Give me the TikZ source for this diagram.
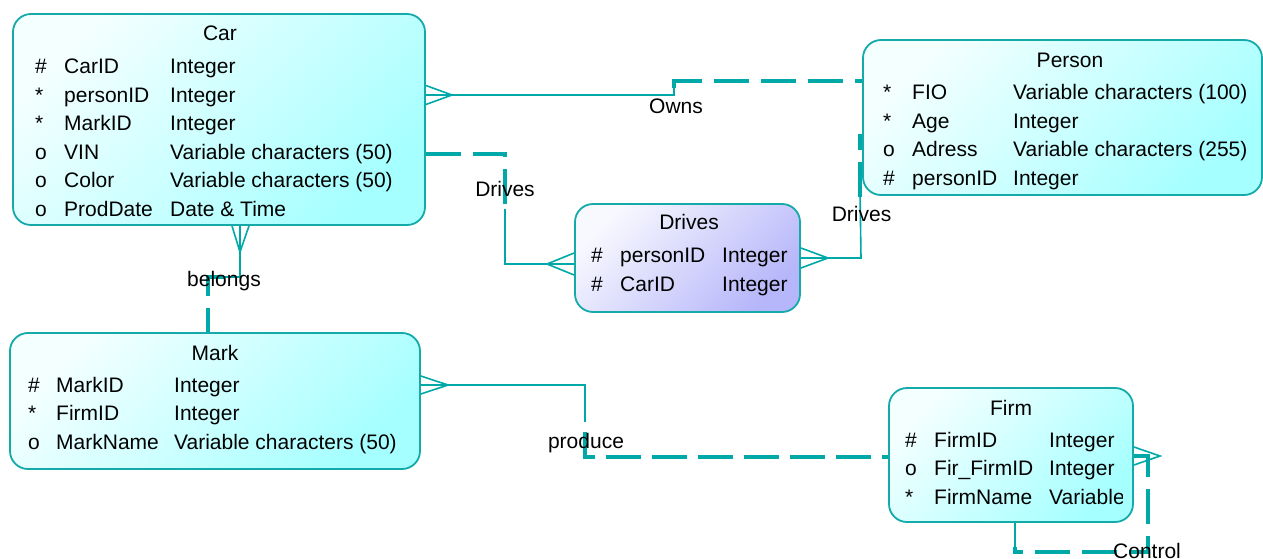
\documentclass[tikz,border=0pt]{standalone}
\usepackage{fontspec}
\setmainfont{Liberation Sans}
\usetikzlibrary{calc}
\definecolor{relline}{RGB}{0,168,168}
\definecolor{boxedge}{RGB}{20,170,170}
\definecolor{cyanlight}{RGB}{244,255,255}
\definecolor{cyandeep}{RGB}{166,255,255}
\definecolor{violight}{RGB}{248,248,255}
\definecolor{viodeep}{RGB}{182,182,250}
\begin{document}
\begin{tikzpicture}[x=1pt,y=-1pt,
  font=\fontsize{21}{25}\selectfont,
  entity/.style={draw=boxedge, line width=1.8pt, rounded corners=18pt, inner sep=0pt,
    top color=cyanlight, bottom color=cyandeep, shading angle=45},
  assoc/.style={entity, top color=violight, bottom color=viodeep, shading angle=45},
  txt/.style={anchor=base west, inner sep=0pt},
  ttl/.style={anchor=base, inner sep=0pt},
  lbl/.style={anchor=base, inner sep=0pt},
  solidrel/.style={draw=relline, line width=1.6pt},
  dashrel/.style={draw=relline, line width=4pt, dash pattern=on 35pt off 12pt},
  crow/.style={draw=relline, line width=1.6pt},
]
\useasboundingbox (0,0) rectangle (1263,559);

% ---------- entities ----------
\node[entity, minimum width=412pt, minimum height=211pt] (car) at (219,119.5) {};
\node[entity, minimum width=399pt, minimum height=155pt] (person) at (1062.5,117.5) {};
\node[assoc, minimum width=225pt, minimum height=108pt] (drives) at (687.5,258) {};
\node[entity, minimum width=410pt, minimum height=136pt] (mark) at (215,401) {};
\node[entity, minimum width=244pt, minimum height=134pt] (firm) at (1011,455) {};

% Car
\node[ttl] (car-title) at (220,41) {Car};
\foreach \s/\n/\t [count=\i from 0] in {\#/CarID/Integer, */personID/Integer, */MarkID/Integer,
    o/VIN/Variable characters (50), o/Color/Variable characters (50), o/ProdDate/Date \& Time} {
  \node[txt] (car-k\i) at (35,{74+28.4*\i}) {\s};
  \node[txt] (car-n\i) at (64,{74+28.4*\i}) {\n};
  \node[txt] (car-t\i) at (170,{74+28.4*\i}) {\t};
}

% Person
\node[ttl] (person-title) at (1070,67.5) {Person};
\foreach \s/\n/\t [count=\i from 0] in {*/FIO/Variable characters (100), */Age/Integer,
    o/Adress/Variable characters (255), \#/personID/Integer} {
  \node[txt] (person-k\i) at (883,{100+28.5*\i}) {\s};
  \node[txt] (person-n\i) at (912,{100+28.5*\i}) {\n};
  \node[txt] (person-t\i) at (1013,{100+28.5*\i}) {\t};
}

% Drives
\node[ttl] (drives-title) at (689,229.5) {Drives};
\foreach \s/\n/\t [count=\i from 0] in {\#/personID/Integer, \#/CarID/Integer} {
  \node[txt] (drives-k\i) at (591,{262+29*\i}) {\s};
  \node[txt] (drives-n\i) at (620,{262+29*\i}) {\n};
  \node[txt] (drives-t\i) at (722,{262+29*\i}) {\t};
}

% Mark
\node[ttl] (mark-title) at (215,360) {Mark};
\foreach \s/\n/\t [count=\i from 0] in {\#/MarkID/Integer, */FirmID/Integer,
    o/MarkName/Variable characters (50)} {
  \node[txt] (mark-k\i) at (28,{392+28.5*\i}) {\s};
  \node[txt] (mark-n\i) at (56,{392+28.5*\i}) {\n};
  \node[txt] (mark-t\i) at (174,{392+28.5*\i}) {\t};
}

% Firm (type column is cut by the box)
\node[ttl] (firm-title) at (1011,415) {Firm};
\begin{scope}
  \clip (889,388) rectangle (1122,522);
  \foreach \s/\n/\t [count=\i from 0] in {\#/FirmID/Integer, o/Fir\_FirmID/Integer,
      */FirmName/Variable characters (100)} {
    \node[txt] (firm-k\i) at (905,{447+28.7*\i}) {\s};
    \node[txt] (firm-n\i) at (934,{447+28.7*\i}) {\n};
    \node[txt] (firm-t\i) at (1049,{447+28.7*\i}) {\t};
  }
\end{scope}

% ---------- relationships ----------
% Owns: Car -- Person
\draw[crow] (car.east |- 0,85.5) -- (452,95) -- (car.east |- 0,104.5);
\draw[solidrel] (car.east |- 0,95) -- (674,95) -- (674,88);
\draw[dashrel] (674,88) -- (674,81) -- (person.west |- 0,81);

% Drives: Car -- Drives
\draw[dashrel] (car.east |- 0,154) -- (505,154) -- (505,209);
\draw[solidrel] (505,209) -- (505,264) -- (drives.west |- 0,264);
\draw[crow] (drives.west |- 0,253) -- (547,264) -- (drives.west |- 0,275);

% Drives: Person -- Drives
\draw[crow] (drives.east |- 0,248) -- (828,258) -- (drives.east |- 0,268);
\draw[solidrel] (drives.east |- 0,258) -- (861,258) -- ($(person.south west)+(-2,1)$);
\draw[dashrel] ($(person.south west)+(-2,1)$) -- ($(person.south west)+(-2,-62)$);

% belongs: Car -- Mark
\draw[crow] (232,0 |- car.south) -- (240,252) -- (249,0 |- car.south);
\draw[solidrel] (240,0 |- car.south) -- (240,277) -- (224,277);
\draw[dashrel] (224,277) -- (208,277) -- (208,0 |- mark.north);

% produce: Mark -- Firm
\draw[crow] (mark.east |- 0,376) -- (448,385) -- (mark.east |- 0,394);
\draw[solidrel] (mark.east |- 0,385) -- (585,385) -- (585,422);
\draw[dashrel, dash pattern=on 35pt off 11pt, dash phase=36pt] (585,422) -- (585,457) -- (firm.west |- 0,457);

% Control: Firm -- Firm
\draw[crow] (firm.east |- 0,447) -- (1160,456) -- (firm.east |- 0,465);
\draw[dashrel] (firm.east |- 0,456) -- (1148,456) -- (1148,552) -- (1015,552) -- (1015,547);
\draw[solidrel] (1015,547) -- (1015,0 |- firm.south);

% ---------- relationship names ----------
\node[lbl] (owns) at (676,113.5) {Owns};
\node[lbl] (drives-car) at (505,196.5) {Drives};
\node[lbl] (drives-person) at (861.5,221.5) {Drives};
\node[lbl] (belongs) at (224,286.5) {belongs};
\node[lbl] (produce) at (586,448.5) {produce};
\node[lbl] (control) at (1147,558) {Control};
\end{tikzpicture}
\end{document}
